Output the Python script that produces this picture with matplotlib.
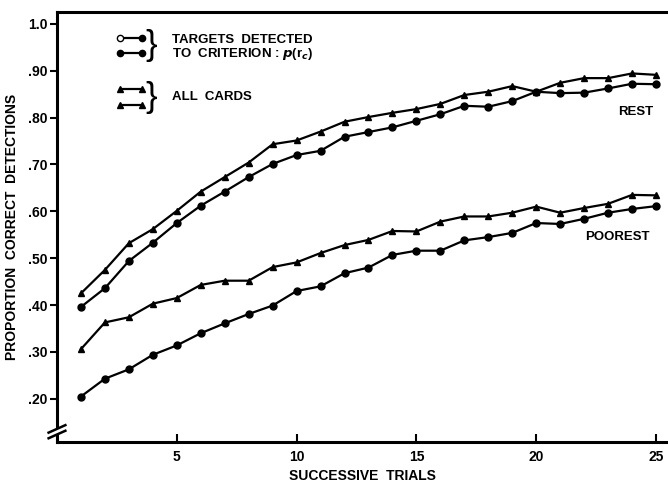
import numpy as np
import matplotlib
matplotlib.use("Agg")
from matplotlib import pyplot as plt

plt.rcParams['font.family'] = ['Liberation Sans', 'DejaVu Sans']
plt.rcParams['font.weight'] = 'bold'

# data
trials = np.arange(1, 26)
rest_all = [.425, .475, .532, .562, .601, .642, .673, .704, .743, .751,
            .770, .791, .801, .810, .818, .829, .848, .855, .867, .855,
            .874, .884, .884, .894, .891]
rest_crit = [.396, .436, .494, .533, .575, .612, .642, .673, .701, .720,
             .729, .759, .769, .779, .793, .807, .825, .823, .835, .855,
             .852, .853, .862, .872, .871]
poor_all = [.306, .363, .374, .403, .415, .443, .452, .452, .481, .491,
            .511, .528, .539, .558, .557, .578, .589, .589, .597, .610,
            .597, .607, .616, .635, .634]
poor_crit = [.205, .243, .263, .294, .314, .340, .361, .381, .399, .430,
             .440, .468, .480, .507, .516, .516, .538, .545, .554, .575,
             .573, .584, .597, .605, .611]

yticks = [.2, .3, .4, .5, .6, .7, .8, .9, 1.0]
ytick_labels = ['.20', '.30', '.40', '.50', '.60', '.70', '.80', '.90', '1.0']
xticks = [5, 10, 15, 20, 25]

fig = plt.figure(figsize=(6.68, 4.92), dpi=100)
ax = fig.add_axes([0.0853, 0.1016, 0.9147, 0.874])

kw = dict(color='black', lw=1.6, markersize=5, clip_on=False)
ax.plot(trials, rest_all, marker='^', **kw)
ax.plot(trials, rest_crit, marker='o', **kw)
ax.plot(trials, poor_all, marker='^', **kw)
ax.plot(trials, poor_crit, marker='o', **kw)

ax.set_xlim(0, 25.5)
ax.set_ylim(0.108, 1.025)
ax.set_yticks(yticks)
ax.set_yticklabels(ytick_labels)
ax.set_xticks(xticks)
ax.tick_params(axis='y', direction='out', length=5, width=1.5, labelsize=10, pad=2)
ax.tick_params(axis='x', direction='in', length=6, width=1.5, labelsize=10, pad=6)

ax.spines['right'].set_visible(False)
for s in ['left', 'top', 'bottom']:
    ax.spines[s].set_linewidth(2.2)
ax.spines['left'].set_bounds(0.14, 1.025)

# axis break on the y axis
ax.plot([0, 0], [0.108, 0.122], color='black', lw=2.2, clip_on=False)
for yb in [0.124, 0.136]:
    ax.plot([-0.35, 0.35], [yb - 0.008, yb + 0.008], color='black', lw=1.8,
            clip_on=False)

ax.set_xlabel('SUCCESSIVE  TRIALS', fontsize=10, fontweight='bold', labelpad=3)
ax.set_ylabel('PROPORTION  CORRECT  DETECTIONS', fontsize=10,
              fontweight='bold', labelpad=6)

# hand drawn key
tr = ax.transAxes
ax.plot([0.103, 0.139], [0.940, 0.940], color='black', lw=1.6, transform=tr)
ax.plot([0.103], [0.940], marker='o', mfc='white', mec='black', ms=4.5, transform=tr)
ax.plot([0.139], [0.940], marker='o', color='black', ms=4.5, transform=tr)
ax.plot([0.103, 0.139], [0.905, 0.905], color='black', lw=1.6, marker='o',
        ms=4.5, transform=tr)
ax.plot([0.103, 0.139], [0.821, 0.821], color='black', lw=1.6, marker='^',
        ms=5, transform=tr)
ax.plot([0.103, 0.139], [0.784, 0.784], color='black', lw=1.6, marker='^',
        ms=5, transform=tr)
ax.text(0.154, 0.921, '}', fontsize=25, fontweight='normal', va='center',
        ha='center', transform=tr)
ax.text(0.154, 0.802, '}', fontsize=25, fontweight='normal', va='center',
        ha='center', transform=tr)
ax.text(0.188, 0.936, 'TARGETS  DETECTED', fontsize=9.5, va='center', transform=tr)
ax.text(0.188, 0.903, 'TO  CRITERION : $p$(r$_c$)', fontsize=9.5, va='center',
        transform=tr)
ax.text(0.188, 0.802, 'ALL  CARDS', fontsize=9.5, va='center', transform=tr)

ax.text(24.17, 0.812, 'REST', fontsize=9.5, ha='center', va='center')
ax.text(23.38, 0.545, 'POOREST', fontsize=9.5, ha='center', va='center')

fig.savefig('out.png', dpi=100)
